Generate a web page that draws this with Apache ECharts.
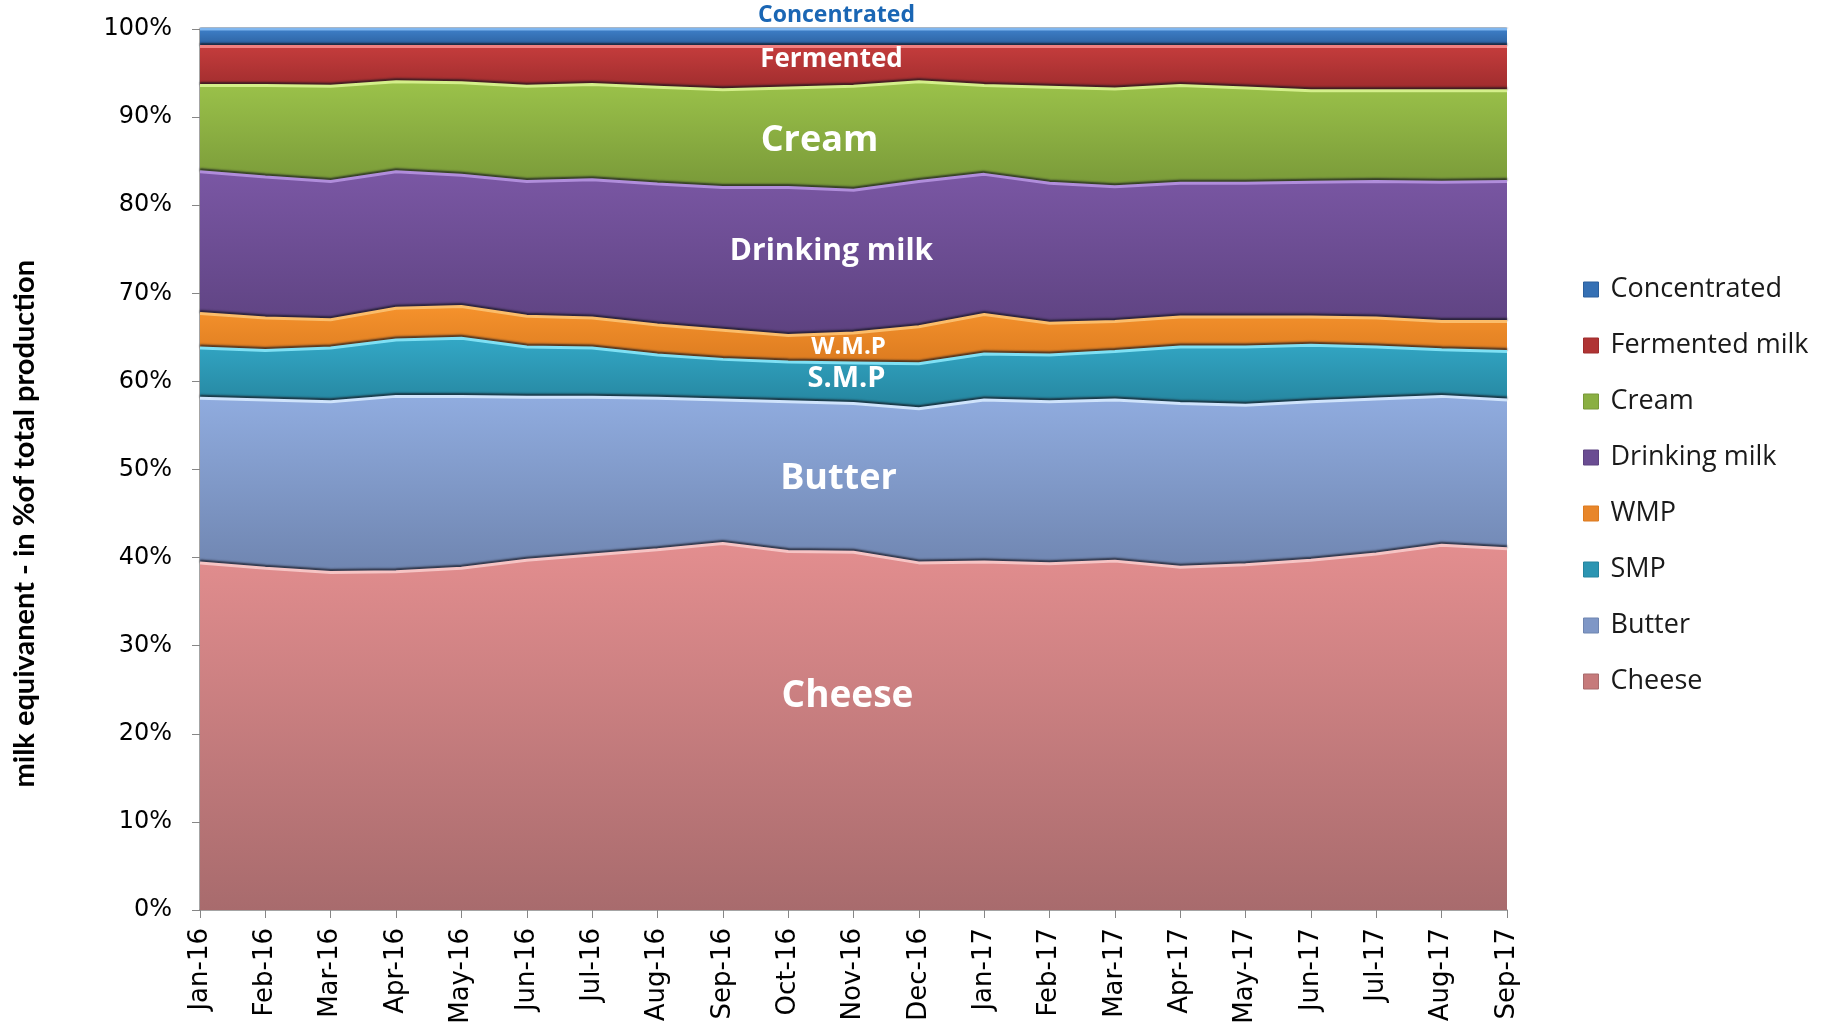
<!DOCTYPE html>
<html>
<head>
<meta charset="utf-8">
<script src="https://cdn.jsdelivr.net/npm/echarts@6/dist/echarts.min.js"></script>
<style>
  html, body { margin: 0; padding: 0; background: #ffffff; }
  #chart { width: 1822px; height: 1022px; }
</style>
</head>
<body>
<div id="chart"></div>
<script>
// ---------- DATA (% of total) ----------
const months = ['Jan-16','Feb-16','Mar-16','Apr-16','May-16','Jun-16','Jul-16','Aug-16','Sep-16','Oct-16','Nov-16','Dec-16',
                'Jan-17','Feb-17','Mar-17','Apr-17','May-17','Jun-17','Jul-17','Aug-17','Sep-17'];
const cheese       = [39.4,38.8,38.3,38.4,38.8,39.7,40.3,40.9,41.6,40.7,40.6,39.4,39.5,39.3,39.6,38.9,39.2,39.7,40.4,41.4,41.0];
const butter       = [18.7,19.1,19.4,19.9,19.5,18.5,17.9,17.2,16.3,17.0,16.9,17.5,18.4,18.4,18.3,18.6,18.1,18.0,17.6,16.9,16.9];
const smp          = [5.7,5.6,6.1,6.4,6.6,5.7,5.6,4.9,4.6,4.5,4.6,5.1,5.2,5.3,5.5,6.4,6.6,6.4,5.9,5.3,5.5];
const wmp          = [3.9,3.7,3.2,3.6,3.6,3.5,3.4,3.4,3.3,3.0,3.4,4.2,4.5,3.6,3.4,3.4,3.4,3.2,3.3,3.2,3.4];
const drinkingMilk = [16.1,16.0,15.7,15.5,14.9,15.3,15.7,16.0,16.2,16.8,16.2,16.5,15.9,15.9,15.3,15.2,15.2,15.3,15.5,15.8,15.9];
const cream        = [9.8,10.4,10.8,10.2,10.5,10.8,10.8,11.0,11.1,11.3,11.8,11.3,10.1,10.9,11.1,11.1,10.8,10.4,10.3,10.4,10.3];
const fermented    = [4.4,4.4,4.5,4.0,4.1,4.5,4.3,4.6,4.9,4.7,4.5,4.0,4.4,4.6,4.8,4.4,4.7,5.0,5.0,5.0,5.0];
const concentrated = [2.0,2.0,2.0,2.0,2.0,2.0,2.0,2.0,2.0,2.0,2.0,2.0,2.0,2.0,2.0,2.0,2.0,2.0,2.0,2.0,2.0];

const seriesNames = ['Cheese','Butter','SMP','WMP','Drinking milk','Cream','Fermented milk','Concentrated'];
const seriesData  = [cheese, butter, smp, wmp, drinkingMilk, cream, fermented, concentrated];
const legendOrder = ['Concentrated','Fermented milk','Cream','Drinking milk','WMP','SMP','Butter','Cheese'];
const yTicks = [0,10,20,30,40,50,60,70,80,90,100];
const areaLabels = ['Concentrated','Fermented','Cream','Drinking milk','W.M.P','S.M.P','Butter','Cheese'];
const yTitle = 'milk equivanent - in %of total production';

// ---------- STYLE ----------
const palette = {
  'Cheese':         { top: '#e38e8f', bottom: '#a86b6d', line: '#f6c4c4', solid: '#c67a7b' },
  'Butter':         { top: '#90acdf', bottom: '#6f85b0', line: '#cfe3fb', solid: '#7f97c6' },
  'SMP':            { top: '#33a8c6', bottom: '#25849e', line: '#7fe0f4', solid: '#2c95b2' },
  'WMP':            { top: '#f5922c', bottom: '#dc7b20', line: '#fbbd6a', solid: '#e8862a' },
  'Drinking milk':  { top: '#7a57a4', bottom: '#5d4280', line: '#b08ddb', solid: '#6a4c92' },
  'Cream':          { top: '#9bc24a', bottom: '#789838', line: '#d4ef8a', solid: '#8aaf42' },
  'Fermented milk': { top: '#c43c3c', bottom: '#9e2c2d', line: '#f08080', solid: '#b03434' },
  'Concentrated':   { top: '#3e7fc8', bottom: '#2b5f9d', line: '#7fb6ef', solid: '#3570b4' }
};

const chart = echarts.init(document.getElementById('chart'), null, { renderer: 'canvas' });

const areaSeries = seriesNames.map((name, i) => {
  const p = palette[name];
  return {
    name: name,
    type: 'line',
    stack: 'total',
    data: seriesData[i],
    showSymbol: false,
    symbol: 'none',
    smooth: false,
    z: 20 - i,
    color: p.solid,
    itemStyle: { color: p.solid },
    lineStyle: {
      color: p.line,
      width: 3,
      shadowColor: 'rgba(20,20,30,0.75)',
      shadowBlur: 2,
      shadowOffsetY: -2
    },
    areaStyle: {
      opacity: 1,
      color: new echarts.graphic.LinearGradient(0, 0, 0, 1, [
        { offset: 0, color: p.top },
        { offset: 1, color: p.bottom }
      ])
    },
    emphasis: { disabled: true },
    silent: true
  };
});

const labelFont = 'Open Sans';
const labelSeries = {
  name: 'labels',
  type: 'scatter',
  clip: false,
  silent: true,
  z: 50,
  symbolSize: 1,
  itemStyle: { color: 'rgba(0,0,0,0)' },
  label: {
    show: true,
    position: 'inside',
    color: '#ffffff',
    opacity: 1,
    textBorderWidth: 0,
    textBorderColor: 'transparent',
    fontFamily: labelFont,
    fontWeight: 'bold',
    formatter: (p) => p.data.text
  },
  data: [
    { value: ['Nov-16', 101.5], text: areaLabels[0], label: { fontSize: 23, color: '#1a66b4', offset: [-17, 0] } },
    { value: ['Nov-16', 96.5],  text: areaLabels[1], label: { fontSize: 26, offset: [-22, 0] } },
    { value: ['Nov-16', 87.3],  text: areaLabels[2], label: { fontSize: 36, offset: [-34, 0] } },
    { value: ['Nov-16', 74.7],  text: areaLabels[3], label: { fontSize: 30, offset: [-22, 0] } },
    { value: ['Nov-16', 63.9],  text: areaLabels[4], label: { fontSize: 24, offset: [-5, 0] } },
    { value: ['Nov-16', 60.3],  text: areaLabels[5], label: { fontSize: 29, offset: [-7, 0] } },
    { value: ['Nov-16', 49.0],  text: areaLabels[6], label: { fontSize: 36, offset: [-15, 0] } },
    { value: ['Nov-16', 24.2],  text: areaLabels[7], label: { fontSize: 37, offset: [-6, 0] } }
  ]
};

const option = {
  backgroundColor: '#ffffff',
  animation: false,
  grid: { left: 200, right: 315, top: 29, bottom: 112, containLabel: false, outerBoundsMode: 'none' },
  graphic: [{
    type: 'text',
    left: 10,
    top: 260,
    rotation: Math.PI / 2,
    silent: true,
    style: {
      text: yTitle,
      fontFamily: 'Lato',
      fontWeight: 'bold',
      fontSize: 29,
      fill: '#000000'
    }
  }],
  legend: {
    orient: 'vertical',
    left: 1578,
    top: 271,
    icon: 'rect',
    itemWidth: 15,
    itemHeight: 15,
    itemGap: 29,
    selectedMode: false,
    textStyle: { fontFamily: 'Open Sans', fontSize: 27, color: '#1a1a1a', padding: [0, 0, 0, 7] },
    data: legendOrder.map(n => ({ name: n, itemStyle: { color: palette[n].solid, borderColor: palette[n].bottom, borderWidth: 1 } }))
  },
  xAxis: {
    type: 'category',
    boundaryGap: false,
    data: months,
    axisLine: { show: true, lineStyle: { color: '#868686', width: 1.5 } },
    axisTick: { show: true, interval: 0, length: 8, lineStyle: { color: '#868686' } },
    axisLabel: {
      interval: 0,
      rotate: 90,
      margin: 18,
      fontFamily: 'DejaVu Sans',
      fontSize: 26,
      color: '#000000'
    },
    splitLine: { show: false }
  },
  yAxis: {
    type: 'value',
    min: yTicks[0],
    max: yTicks[yTicks.length - 1],
    interval: 10,
    axisLine: { show: true, lineStyle: { color: '#868686', width: 1.5 } },
    axisTick: { show: true, length: 8, lineStyle: { color: '#868686' } },
    axisLabel: {
      formatter: '{value}%',
      margin: 28,
      fontFamily: 'DejaVu Sans',
      fontSize: 24,
      color: '#000000'
    },
    splitLine: { show: false }
  },
  series: areaSeries.concat([labelSeries])
};

chart.setOption(option);
</script>
</body>
</html>
